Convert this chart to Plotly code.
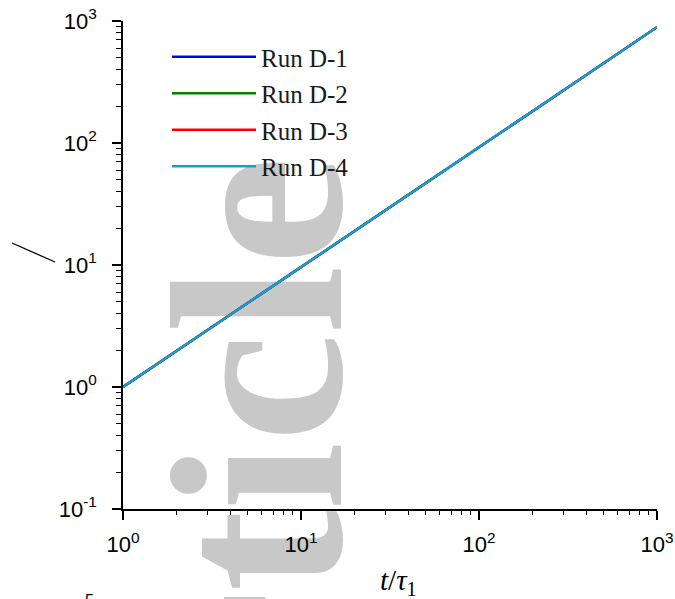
import plotly.graph_objects as go

# Dimensionless time t/tau_1
t_tau = [1, 2, 5, 10, 20, 50, 100, 200, 500, 1000]

# Growth curves of the four runs (they collapse onto one power law)
run_d1 = [1.0, 1.98, 4.86, 9.62, 19.0, 46.7, 92.4, 182, 450, 890]
run_d2 = [1.0, 1.98, 4.86, 9.62, 19.0, 46.7, 92.4, 182, 450, 890]
run_d3 = [1.0, 1.98, 4.86, 9.62, 19.0, 46.7, 92.4, 182, 450, 890]
run_d4 = [1.0, 1.98, 4.86, 9.62, 19.0, 46.7, 92.4, 182, 450, 890]

run_names = ["Run D-1", "Run D-2", "Run D-3", "Run D-4"]
run_colors = ["#0000ff", "#008000", "#ff0000", "#0aa0d8"]

x_ticks = [1, 10, 100, 1000]
x_ticktext = ["10<sup>0</sup>", "10<sup>1</sup>", "10<sup>2</sup>", "10<sup>3</sup>"]
y_ticks = [0.1, 1, 10, 100, 1000]
y_ticktext = ["10<sup>-1</sup>", "10<sup>0</sup>", "10<sup>1</sup>", "10<sup>2</sup>", "10<sup>3</sup>"]

minor_x = [m * 10 ** e for e in range(0, 3) for m in range(2, 10)]
minor_y = [m * 10 ** e for e in range(-1, 3) for m in range(2, 10)]

W, H = 675, 599
ML, MR, MT, MB = 123, 18, 21, 90
PW, PH = W - ML - MR, H - MT - MB


def px(x):
    return (x - ML) / PW


def py(y):
    return (H - MB - y) / PH


fig = go.Figure()
for name, color, ys in zip(run_names, run_colors, [run_d1, run_d2, run_d3, run_d4]):
    fig.add_trace(go.Scatter(
        x=t_tau, y=ys, mode="lines", name=name, legendgroup=name,
        line=dict(color=color, width=2.4),
    ))

axis_common = dict(
    type="log", showgrid=False, zeroline=False, showline=True, automargin=False,
    linecolor="black", linewidth=1.5, ticks="outside", ticklen=9,
    tickwidth=1.5, tickcolor="black", mirror=False,
    tickfont=dict(family="Liberation Sans, Arial", size=22, color="black"),
)

fig.update_xaxes(
    range=[0, 3], tickvals=x_ticks, ticktext=x_ticktext, ticklabelstandoff=6,
    minor=dict(tickvals=minor_x, ticks="outside", ticklen=4, tickwidth=1.2, tickcolor="black"),
    **axis_common,
)
fig.update_yaxes(
    range=[-1, 3], tickvals=y_ticks, ticktext=y_ticktext, ticklabelstandoff=11,
    minor=dict(tickvals=minor_y, ticks="outside", ticklen=5, tickwidth=1.2, tickcolor="black"),
    **axis_common,
)

# Light grey "Article" stamp, drawn underneath the data
fig.add_shape(
    type="rect", xref="paper", yref="paper",
    x0=px(166), x1=px(296), y0=py(600), y1=py(434),
    line=dict(width=0), fillcolor="rgba(0,0,0,0)", layer="below",
    label=dict(text="<b>Article</b>", textangle=-90, textposition="middle center",
               font=dict(family="Liberation Serif, Times New Roman", size=245, color="#c8c8c8")),
)

# Y-axis title stroke
fig.add_shape(
    type="line", xref="paper", yref="paper",
    x0=px(12), y0=py(243), x1=px(55), y1=py(262),
    line=dict(color="black", width=1.3),
)

fig.add_annotation(
    xref="paper", yref="paper", x=px(398), y=py(582),
    text="<i>t</i>/<i>τ</i><sub>1</sub>", showarrow=False,
    xanchor="center", yanchor="middle",
    font=dict(family="Liberation Serif, Times New Roman", size=29, color="black"),
)

fig.add_annotation(
    xref="paper", yref="paper", x=px(89), y=py(590),
    text="5", showarrow=False, xanchor="center", yanchor="top",
    font=dict(family="Liberation Sans, Arial", size=16, color="black"),
)

fig.update_layout(
    width=W, height=H,
    margin=dict(l=ML, r=MR, t=MT, b=MB),
    paper_bgcolor="white", plot_bgcolor="rgba(0,0,0,0)",
    showlegend=True,
    legend=dict(
        x=px(167), y=py(34), xanchor="left", yanchor="top",
        bgcolor="rgba(0,0,0,0)", borderwidth=0,
        font=dict(family="Liberation Serif, Times New Roman", size=25, color="#1a1a1a"),
        itemwidth=84, traceorder="grouped", tracegroupgap=1,
    ),
)

fig.write_html("out.html")
